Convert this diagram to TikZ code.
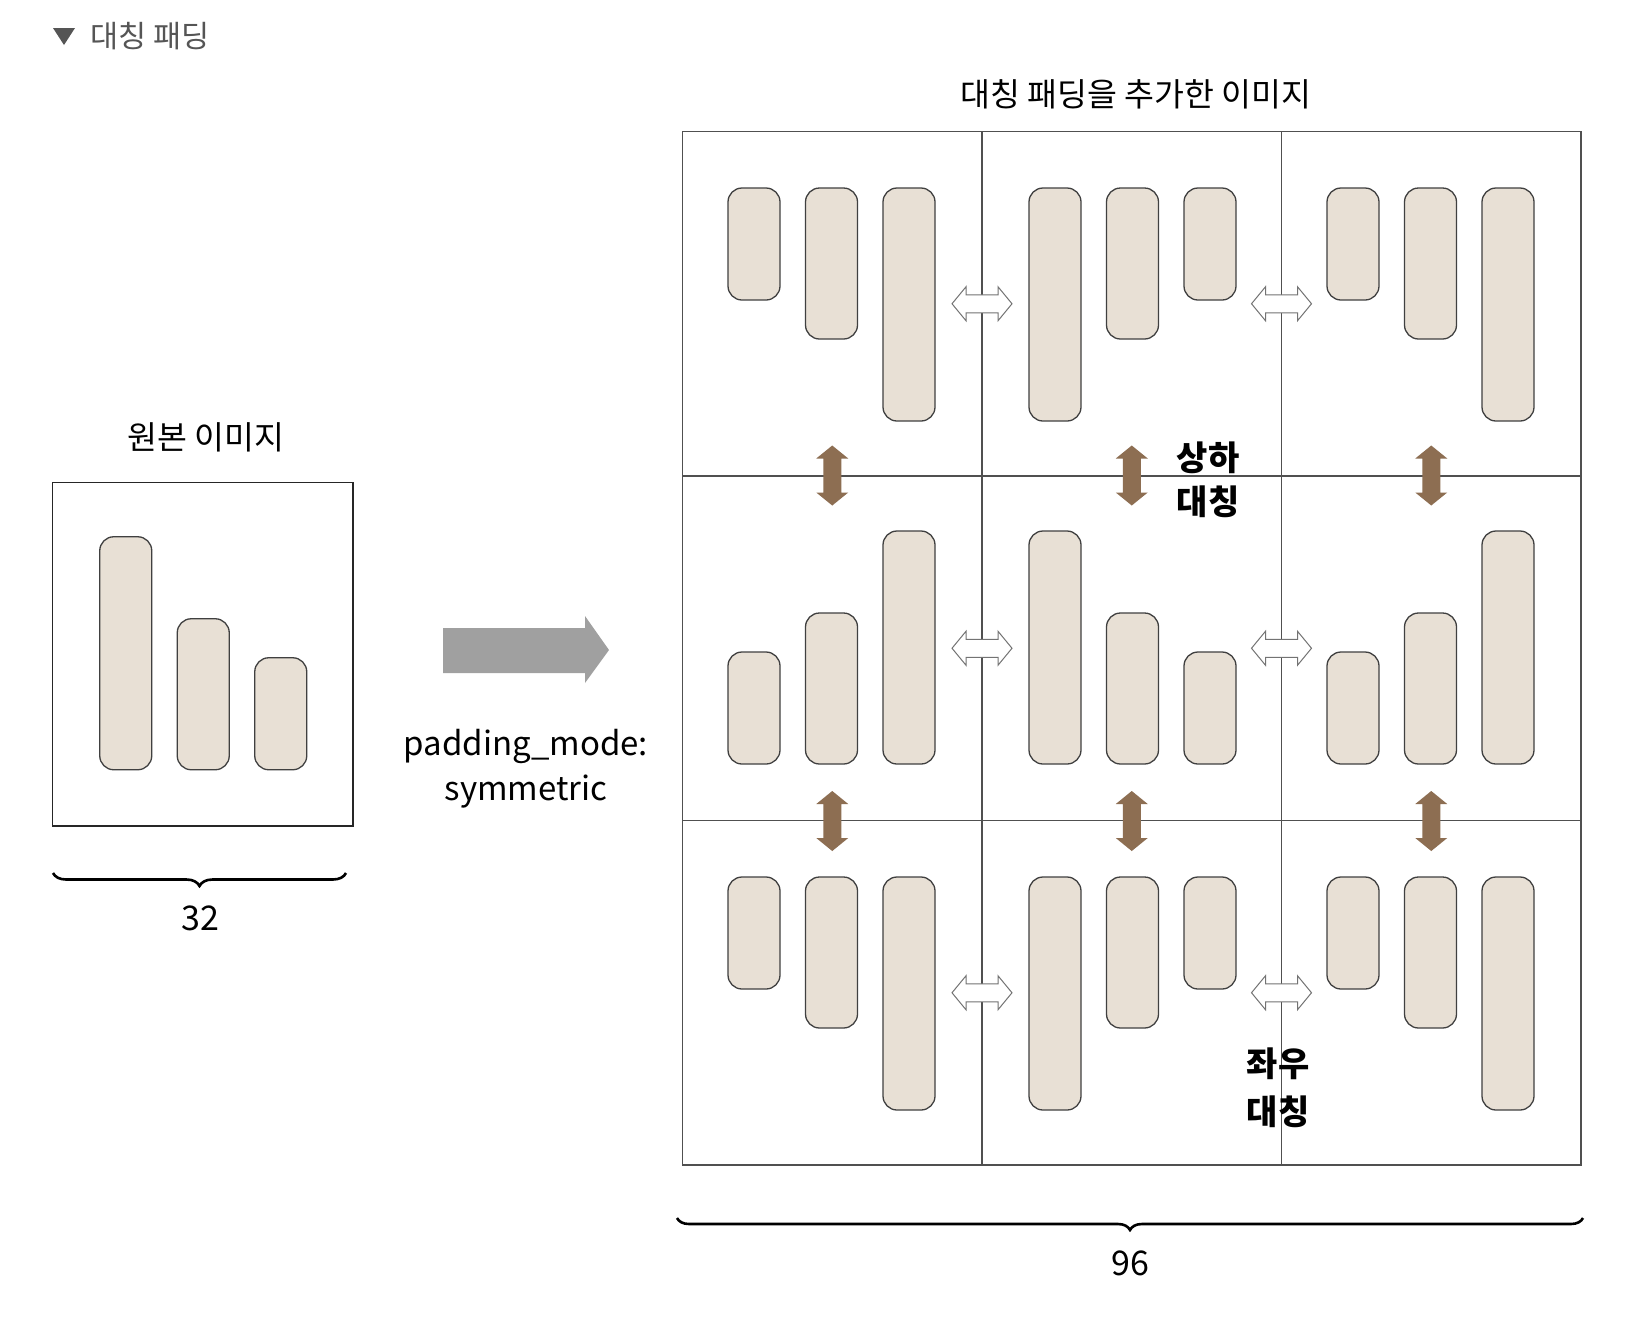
\documentclass[tikz,border=0pt]{standalone}
\usepackage{fontspec}
\setmainfont{Noto Sans CJK KR}
\usetikzlibrary{decorations.pathreplacing}
\definecolor{barfill}{HTML}{E8E0D5}
\definecolor{barline}{HTML}{404040}
\definecolor{gridcol}{HTML}{505050}
\definecolor{brownarr}{HTML}{8D6E52}
\definecolor{grayarr}{HTML}{A0A0A0}
\definecolor{titlegray}{HTML}{555555}
\tikzset{
  barstyle/.style={draw=barline, fill=barfill, line width=1.3pt, rounded corners=14pt},
  gridline/.style={draw=gridcol, line width=1.3pt},
  boxline/.style={draw=black!85, line width=1.5pt},
  bracestyle/.style={draw=black, line width=2.6pt, decorate},
  ktext/.style={inner sep=0pt, anchor=base, font=\fontsize{32.5}{38}\selectfont},
  klabel/.style={inner sep=0pt, anchor=base, font=\fontsize{34}{40}\selectfont\bfseries},
  ltext/.style={inner sep=0pt, anchor=base, font=\fontsize{33}{38}\selectfont},
  numtext/.style={inner sep=0pt, anchor=base, font=\fontsize{34}{40}\selectfont},
  bars/.pic={
    \path[barstyle] (-102.75,-117.25) rectangle (-50.75,115.75);
    \path[barstyle] (-25.25,-35.25) rectangle (26.75,115.75);
    \path[barstyle] (52.25,3.75) rectangle (104.25,115.75);
  },
  harrow/.pic={
    \path[draw=gray!110, fill=white, line width=1pt, line join=miter]
      (-30,0) -- (-16,-17) -- (-16,-9) -- (16,-9) -- (16,-17) -- (30,0)
      -- (16,17) -- (16,9) -- (-16,9) -- (-16,17) -- cycle;
  },
  varrow/.pic={
    \path[fill=brownarr]
      (0,-30) -- (16,-17) -- (9,-17) -- (9,17) -- (16,17) -- (0,30)
      -- (-16,17) -- (-9,17) -- (-9,-17) -- (-16,-17) -- cycle;
  }
}
\begin{document}
\begin{tikzpicture}[x=1pt,y=-1pt]
\useasboundingbox (0,0) rectangle (1642,1326);
\fill[white] (0,0) rectangle (1642,1326);

% heading
\fill[titlegray] (53,28) -- (75,28) -- (64,45) -- cycle;
\node[ktext, anchor=base west, text=titlegray, font=\fontsize{30.5}{36}\selectfont] (head) at (90,47.5) {대칭 패딩};

% original image
\node[ktext] (origtitle) at (206,449) {원본 이미지};
\draw[boxline] (52.5,482.5) rectangle (353,826);
\pic at (202.5,654) {bars};
\draw[bracestyle, decoration={brace, amplitude=13pt}] (346,873) -- (53,873);
\node[numtext] (n32) at (200,930) {32};

% big gray arrow
\fill[grayarr] (443,628) -- (585,628) -- (585,616) -- (609,650) -- (585,683) -- (585,673) -- (443,673) -- cycle;
\node[ltext] (pm1) at (526,755) {padding\_mode:};
\node[ltext] (pm2) at (526,800) {symmetric};

% padded image
\node[ktext] (padtitle) at (1136,106) {대칭 패딩을 추가한 이미지};
\draw[gridline] (682.5,131.5) rectangle (1581,1165);
\draw[gridline] (982,131.5) -- (982,1165);
\draw[gridline] (1281.5,131.5) -- (1281.5,1165);
\draw[gridline] (682.5,476) -- (1581,476);
\draw[gridline] (682.5,820.5) -- (1581,820.5);

\foreach \cy/\vs in {303.75/-1, 648.25/1, 992.75/-1}{
  \foreach \cx/\hs in {832.25/-1, 1131.75/1, 1431.25/-1}{
    \pic[xscale=\hs, yscale=\vs] at (\cx,\cy) {bars};
  }
}

\foreach \cy in {303.75, 648.25, 992.75}{
  \foreach \cx in {982, 1281.5}{
    \pic at (\cx,\cy) {harrow};
  }
}
\foreach \cy in {475.5, 821}{
  \foreach \cx in {832.25, 1131.75, 1431.25}{
    \pic at (\cx,\cy) {varrow};
  }
}

\node[klabel] (ud1) at (1208,470) {상하};
\node[klabel] (ud2) at (1208,514) {대칭};
\node[klabel] (lr1) at (1278,1076) {좌우};
\node[klabel] (lr2) at (1278,1124) {대칭};

\draw[bracestyle, decoration={brace, amplitude=12pt}] (1583,1218) -- (677,1218);
\node[numtext] (n96) at (1130,1275) {96};
\end{tikzpicture}
\end{document}
